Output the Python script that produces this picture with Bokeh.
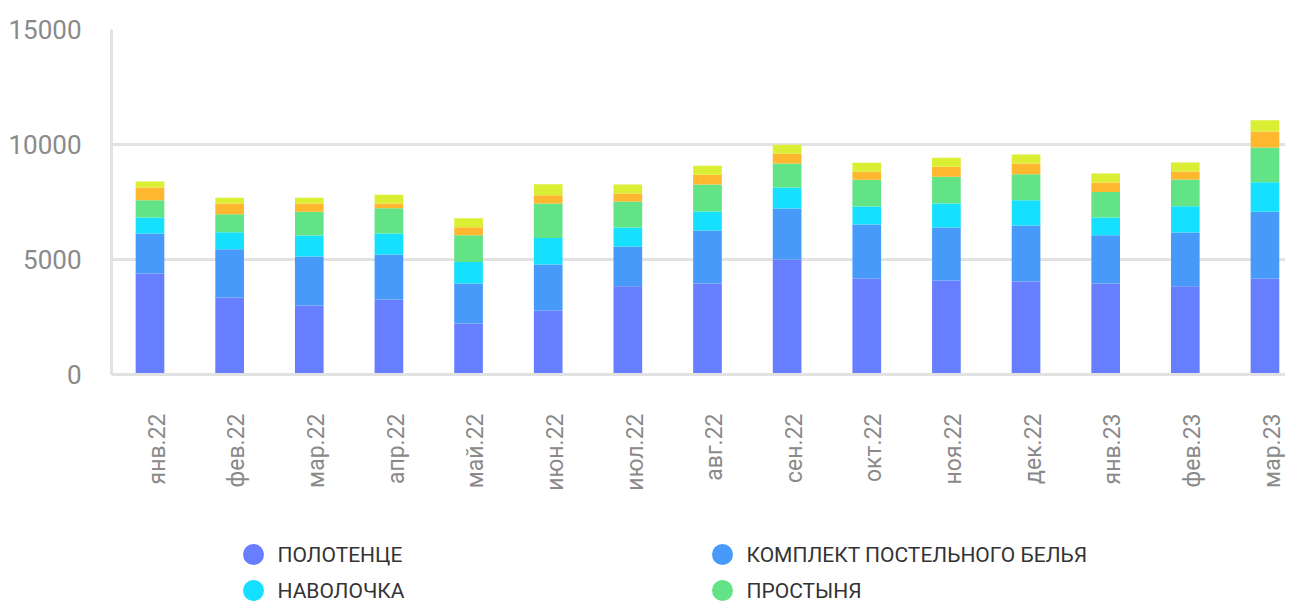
import math
from bokeh.plotting import figure
from bokeh.models import Range1d, FixedTicker, ColumnDataSource
from bokeh.layouts import column
from bokeh.embed import file_html
from bokeh.resources import INLINE
from bokeh.core.properties import value

# ---- data ----
months = ["янв.22", "фев.22", "мар.22", "апр.22", "май.22", "июн.22", "июл.22",
          "авг.22", "сен.22", "окт.22", "ноя.22", "дек.22", "янв.23", "фев.23", "мар.23"]
polotence = [4390, 3350, 3000, 3260, 2220, 2780, 3840, 3960, 5000, 4170, 4090, 4040, 3960, 3840, 4170]
komplekt = [1740, 2100, 2130, 1960, 1740, 2000, 1720, 2300, 2220, 2350, 2300, 2440, 2090, 2330, 2910]
navolochka = [700, 740, 910, 910, 930, 1150, 830, 830, 910, 780, 1040, 1100, 780, 1150, 1280]
prostynya = [750, 780, 1040, 1100, 1160, 1510, 1130, 1170, 1040, 1170, 1170, 1130, 1100, 1160, 1510]
series5 = [550, 460, 350, 200, 350, 350, 350, 430, 430, 350, 430, 460, 420, 350, 700]
series6 = [260, 260, 260, 390, 390, 480, 390, 390, 390, 390, 390, 390, 390, 390, 480]

series_keys = ["polotence", "komplekt", "navolochka", "prostynya", "series5", "series6"]
series_colors = ["#667EFF", "#479AFA", "#15E0FF", "#62E386", "#FEB72E", "#DAEE33"]
legend_names = ["ПОЛОТЕНЦЕ", "КОМПЛЕКТ ПОСТЕЛЬНОГО БЕЛЬЯ", "НАВОЛОЧКА", "ПРОСТЫНЯ"]
y_ticks = [0, 5000, 10000, 15000]

# ---- layout constants (pixels) ----
W = 1285
FRAME_LEFT = 111
FRAME_TOP = 29
FRAME_BOTTOM = 374
H_MAIN = 520
H_LEG = 82
px_per_unit = 79.64
x_start = -(149.5 - FRAME_LEFT) / px_per_unit
x_end = x_start + (W - FRAME_LEFT) / px_per_unit

# ---- main chart ----
xs = list(range(len(months)))
src = ColumnDataSource(dict(x=xs, polotence=polotence, komplekt=komplekt,
                            navolochka=navolochka, prostynya=prostynya,
                            series5=series5, series6=series6))

xr = Range1d(x_start, x_end)
p = figure(width=W, height=H_MAIN, output_backend="svg", toolbar_location=None,
           x_range=xr, y_range=Range1d(0, 15000),
           min_border_left=FRAME_LEFT, min_border_right=0, min_border_top=FRAME_TOP,
           min_border_bottom=H_MAIN - FRAME_BOTTOM)
p.outline_line_color = None
p.background_fill_color = "white"
p.border_fill_color = "white"

p.vbar_stack(series_keys, x="x", width=0.36, color=series_colors, source=src,
             line_color=None)

p.xgrid.visible = False
p.ygrid.grid_line_color = "#E2E2E2"
p.ygrid.grid_line_width = 3
p.yaxis.ticker = FixedTicker(ticks=y_ticks)
p.yaxis.axis_line_color = "#E2E2E2"
p.yaxis.axis_line_width = 3
p.yaxis.major_tick_line_color = None
p.yaxis.minor_tick_line_color = None
p.yaxis.major_label_text_font = "Roboto"
p.yaxis.major_label_text_font_size = "26px"
p.yaxis.major_label_text_color = "#8A8A8A"
p.yaxis.major_label_standoff = 24

label_shift = 0.09
p.xaxis.ticker = FixedTicker(ticks=[i + label_shift for i in xs])
p.xaxis.major_label_overrides = {i + label_shift: m for i, m in zip(xs, months)}
p.xaxis.major_label_orientation = math.pi / 2
p.xaxis.axis_line_color = "#E2E2E2"
p.xaxis.axis_line_width = 3
p.xaxis.major_tick_line_color = None
p.xaxis.minor_tick_line_color = None
p.xaxis.major_label_text_font = "Roboto"
p.xaxis.major_label_text_font_size = "23px"
p.xaxis.major_label_text_color = "#8A8A8A"
p.xaxis.major_label_standoff = 33

# ---- legend (drawn below, two columns), shares the x scale ----
leg = figure(width=W, height=H_LEG, output_backend="svg", toolbar_location=None,
             x_range=xr, y_range=Range1d(H_LEG, 0),
             min_border_left=FRAME_LEFT, min_border_right=0,
             min_border_top=0, min_border_bottom=0,
             x_axis_location=None, y_axis_location=None)
leg.outline_line_color = None
leg.xgrid.visible = False
leg.ygrid.visible = False

col_px = [253 - FRAME_LEFT, 722 - FRAME_LEFT]
row_px = [554 - H_MAIN, 590 - H_MAIN]
text_gap_px = 24
lx, ly, lt, lc, ltx = [], [], [], [], []
for i, name in enumerate(legend_names):
    cx = x_start + col_px[i % 2] / px_per_unit
    lx.append(cx)
    ltx.append(cx + text_gap_px / px_per_unit)
    ly.append(row_px[i // 2])
    lt.append(name)
    lc.append(series_colors[i])
lsrc = ColumnDataSource(dict(x=lx, y=ly, t=lt, c=lc, tx=ltx))
leg.scatter(x="x", y="y", size=21, color="c", line_color=None, source=lsrc)
leg.text(x="tx", y="y", text="t", source=lsrc, text_font=value("Roboto"),
         text_font_size="21px", text_color="#333333", text_baseline="middle",
         text_align="left")

layout = column(p, leg, spacing=0)
open("out.html", "w").write(file_html(layout, INLINE))
